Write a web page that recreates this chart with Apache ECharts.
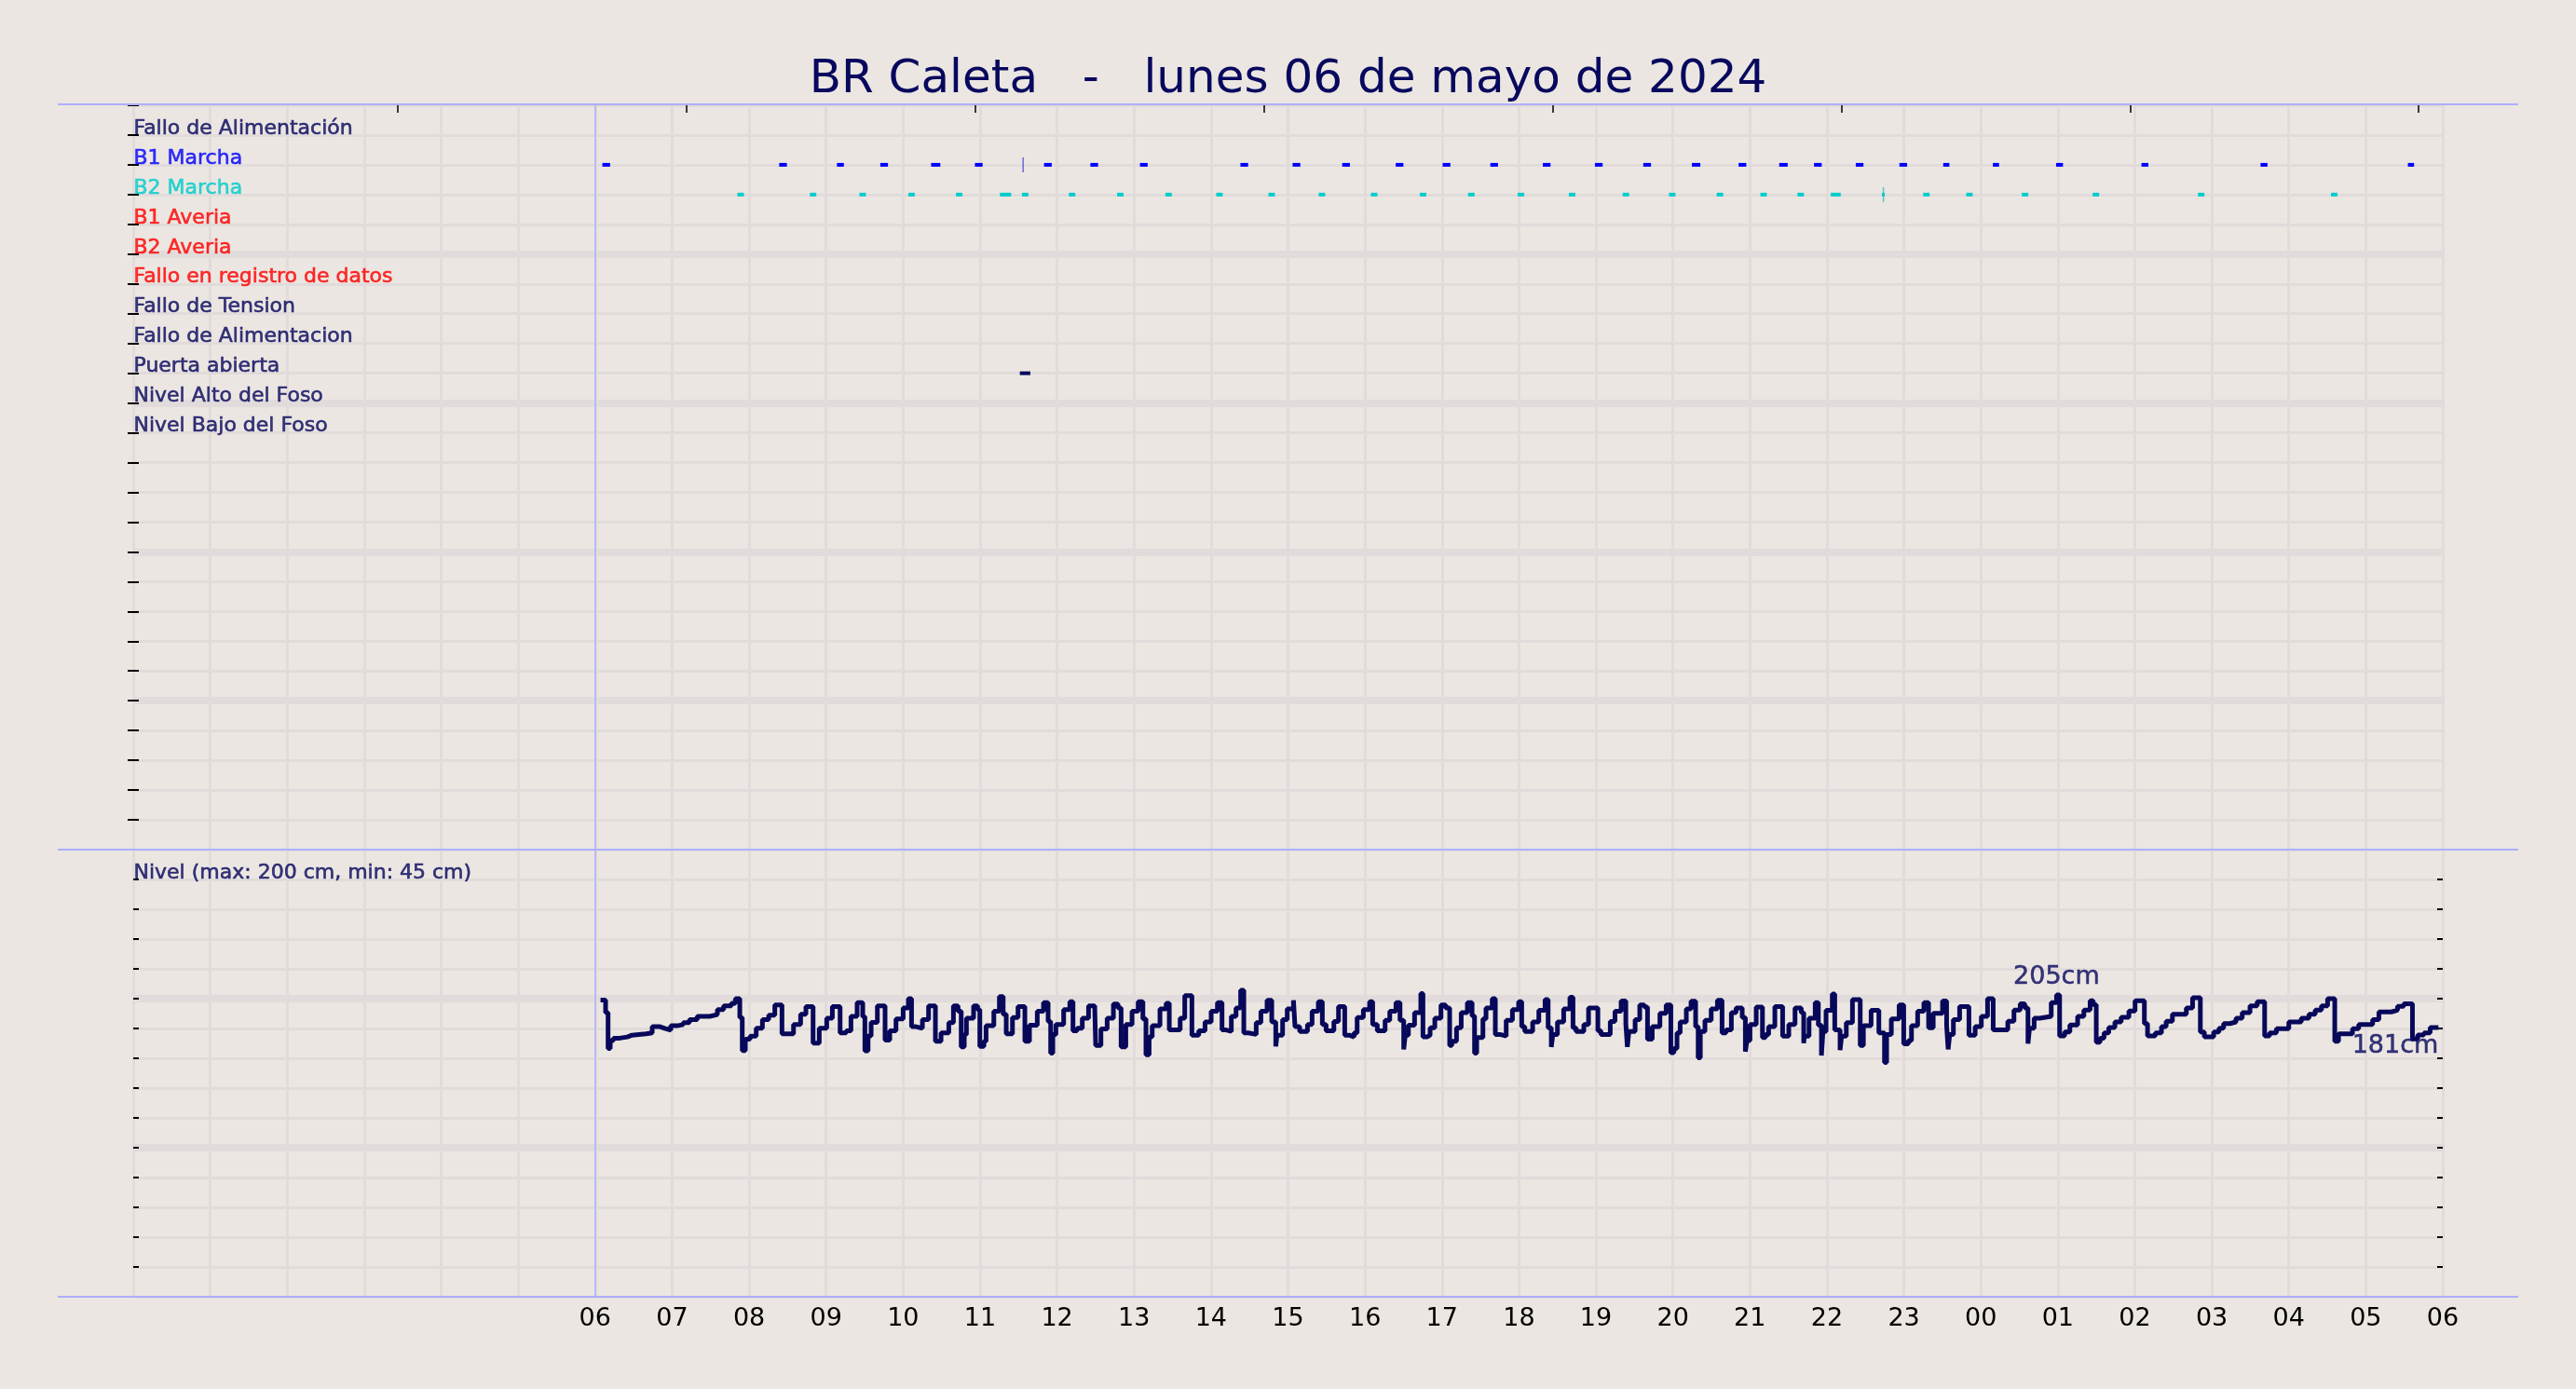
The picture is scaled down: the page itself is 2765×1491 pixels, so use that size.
<!DOCTYPE html>
<html><head><meta charset="utf-8">
<script src="https://cdn.jsdelivr.net/npm/echarts@6/dist/echarts.min.js"></script>
<style>html,body{margin:0;padding:0;background:#ebe6e1;}#c{width:2765px;height:1491px;}</style>
</head><body><div id="c"></div>
<script>
// ---------- DATA ----------
const titleText = 'BR Caleta   -   lunes 06 de mayo de 2024';
const hourLabels = ['06','07','08','09','10','11','12','13','14','15','16','17','18','19','20','21','22','23','00','01','02','03','04','05','06'];
const firstLabelHour = 6;
const dataStartHour = 6;
const topTickHours = [3.4375, 7.1875, 10.9375, 14.6875, 18.4375, 22.1875, 25.9375, 29.6875];

const rowLabels = ['Fallo de Alimentación','B1 Marcha','B2 Marcha','B1 Averia','B2 Averia','Fallo en registro de datos','Fallo de Tension','Fallo de Alimentacion','Puerta abierta','Nivel Alto del Foso','Nivel Bajo del Foso'];
const rowColors = ['#08085e','#0000ff','#00cccc','#ff0000','#ff0000','#ff0000','#08085e','#08085e','#08085e','#08085e','#08085e'];
const levelTitle = 'Nivel (max: 200 cm, min: 45 cm)';

// pump runs [start hour, end hour]
const b1Runs = [[6.094,6.194],[8.391,8.491],[9.141,9.231],[9.704,9.804],[10.364,10.484],[10.933,11.033],[11.831,11.931],[12.433,12.533],[13.077,13.177],[14.382,14.482],[15.060,15.160],[15.704,15.804],[16.399,16.499],[17.009,17.109],[17.628,17.728],[18.31,18.41],[18.987,19.087],[19.615,19.715],[20.246,20.356],[20.853,20.953],[21.381,21.491],[21.833,21.933],[22.375,22.475],[22.942,23.042],[23.511,23.591],[24.156,24.236],[24.977,25.067],[26.086,26.176],[27.633,27.723],[29.547,29.627]];
const b2Runs = [[7.848,7.932],[8.789,8.873],[9.433,9.517],[10.068,10.152],[10.687,10.771],[11.258,11.404],[11.543,11.627],[12.153,12.237],[12.780,12.864],[13.407,13.491],[14.068,14.152],[14.746,14.830],[15.399,15.483],[16.077,16.161],[16.712,16.796],[17.339,17.423],[17.983,18.067],[18.648,18.732],[19.347,19.431],[19.949,20.033],[20.569,20.653],[21.136,21.220],[21.618,21.702],[22.05,22.18],[22.715,22.753],[23.251,23.335],[23.810,23.894],[24.532,24.616],[25.452,25.536],[26.820,26.904],[28.548,28.632]];
const doorRuns = [[11.517,11.653]];
const b1Pulses = [11.559];
const b2Pulses = [22.734];

// water level (step) : hour of change, value in cm
const levelHours = [6.070,6.136,6.168,6.196,6.237,6.318,6.418,6.479,6.660,6.741,6.842,6.903,6.983,7.064,7.144,7.225,7.326,7.487,7.588,7.669,7.770,7.822,7.879,7.911,7.951,8.012,8.092,8.173,8.254,8.334,8.427,8.577,8.669,8.738,8.831,8.911,9.008,9.081,9.182,9.262,9.323,9.403,9.476,9.504,9.545,9.585,9.666,9.766,9.827,9.908,10.001,10.069,10.110,10.170,10.251,10.331,10.420,10.493,10.594,10.654,10.714,10.755,10.795,10.823,10.916,10.968,10.997,11.050,11.078,11.179,11.251,11.300,11.340,11.421,11.493,11.582,11.642,11.743,11.824,11.884,11.917,11.945,11.985,12.086,12.166,
12.207,12.260,12.328,12.409,12.490,12.502,12.570,12.651,12.732,12.792,12.832,12.893,12.974,13.054,13.115,13.155,13.196,13.236,13.337,13.417,13.458,13.599,13.659,13.752,13.841,13.922,14.002,14.083,14.143,14.184,14.264,14.325,14.385,14.426,14.486,14.587,14.648,14.728,14.789,14.841,14.857,14.930,14.990,15.071,15.091,15.152,15.253,15.313,15.394,15.446,15.495,15.596,15.656,15.737,15.797,15.858,15.898,15.979,16.060,16.100,16.160,16.261,16.322,16.402,16.455,16.503,16.523,16.564,16.644,16.725,16.753,16.806,16.846,16.907,16.987,17.048,17.100,17.128,17.189,17.250,17.330,17.391,17.423,17.451,17.532,17.572,17.653,17.693,17.754,17.834,17.915,17.996,18.036,18.076,
18.178,18.258,18.339,18.379,18.420,18.440,18.500,18.581,18.662,18.702,18.742,18.843,18.904,19.025,19.065,19.186,19.247,19.327,19.388,19.408,19.428,19.509,19.569,19.630,19.670,19.731,19.831,19.912,19.973,20.013,20.053,20.094,20.174,20.235,20.295,20.328,20.356,20.416,20.497,20.578,20.638,20.690,20.759,20.820,20.900,20.941,20.961,21.001,21.082,21.163,21.203,21.243,21.324,21.425,21.505,21.586,21.667,21.699,21.707,21.768,21.848,21.889,21.929,21.949,21.989,22.070,22.102,22.171,22.191,22.252,22.332,22.433,22.474,22.574,22.675,22.748,22.776,22.837,22.938,22.998,23.058,23.099,23.179,23.260,23.321,23.381,23.502,23.555,23.575,23.595,23.643,23.724,23.845,23.926,24.006,24.087,24.160,
24.350,24.430,24.511,24.571,24.612,24.632,24.692,24.765,24.914,24.983,25.023,25.088,25.156,25.257,25.338,25.419,25.459,25.499,25.548,25.600,25.661,25.741,25.822,25.923,26.003,26.124,26.165,26.266,26.346,26.407,26.488,26.669,26.750,26.851,26.903,27.024,27.093,27.153,27.234,27.314,27.395,27.496,27.589,27.686,27.750,27.839,28.000,28.162,28.262,28.343,28.424,28.504,28.597,28.646,28.827,28.908,29.089,29.170,29.331,29.412,29.493,29.606,29.674,29.755,29.836,29.944];
const levelCm = [199,190.6,166.6,171.8,173.5,174.3,175.5,176.4,177,181.2,180.1,178.9,181.8,182.6,183.9,186,188.1,189.3,192.7,195.2,196.8,200,187.4,165.1,172.8,174.9,180.1,186,188.9,195.8,176.4,182.6,189.5,194.7,170.1,180.1,186.8,194.7,177,178.5,188.1,197.3,188,165,175,184,195.2,172.2,178.5,186.4,193.7,200,181.2,180.1,186,195.2,171.4,177,183.9,195.2,191.6,167.6,176,186.8,195.2,192.7,168,171.4,181.8,191.6,201.4,189.5,176.4,187.4,194.7,171.4,182.2,191.6,197.3,184.7,163.4,176,182.6,192.7,197.9,
178.5,180.1,186.8,195.2,192.7,168.6,179.7,186.8,196.4,193.7,167.6,182.6,191.6,197.9,186.4,162.4,174.3,181.8,193.1,196.8,179.1,186.8,202,175.5,178.5,184.3,191.6,197.3,179.1,178,188.1,193.7,205.6,177,176,183.9,191.6,198.9,184.3,168,175.5,186,193.1,198.9,181.2,178,182.6,191.6,197.9,182.6,178.5,184.7,194.7,175.5,174.3,177,187.4,192.7,197.9,182.6,178.5,185.4,191.6,197.3,185.4,166,175.5,182.2,190.6,203.5,174.3,175.5,180.5,186.8,195.8,193.7,168.6,171.4,180.5,190.6,197.3,188.5,163.4,173.9,186.4,193.7,200,176,174.9,185.4,192.7,197.9,181.2,178,
184.3,192.2,199.3,180.5,167.6,176,184.3,193.1,201,180.5,178,182.6,193.7,178.5,176,184.7,191.6,198.5,183.3,167.6,178,186,195.8,194.3,172.8,181.2,190.2,195.8,163.8,166.6,177,184.3,193.1,198.3,181.2,160.3,178,185.4,193.1,198.9,177,179.1,190.6,193.7,187.4,164.5,171.8,182.6,194.3,173.9,176,181.2,194.7,174.9,182.6,193.7,190.6,170.1,174.9,186.8,197.3,182.2,161.8,178,192.2,203.1,179.1,165.5,174.9,183.9,199.3,168.6,181.8,192.2,177,157.2,176,186.4,195.8,169.7,171.8,181.8,191.6,197.3,180.5,190.2,198.5,182.2,166,176,186,194.7,175.5,181.2,188.1,200,179.1,
184.8,192.3,196.5,193.8,169.8,180.2,186.9,188.1,197.3,202.5,175,177.7,182.3,188.1,192.3,198.6,195.9,170.8,173.5,177.1,180.6,184.4,187.5,191.7,198.6,183.3,175,177.1,181.3,184.8,189.6,193.8,200.7,177.7,174.4,177.7,180.2,183.3,184.4,186.9,190.6,195.2,198,175,177.1,179.8,184.4,186.9,189.6,192.3,195.2,200,171.4,176.4,179.8,182.7,186,191.1,192.3,194.8,196.5,172.9,175.6,177.1,180.6,180.6];

const noteHours = [24.983, 29.944];
const noteTexts = ['205cm', '181cm'];

// ---------- STYLE / LAYOUT ----------
const BG = '#ebe6e1', GRIDC = '#e1dcdb', NAVY = '#08085e', GUIDE = '#aeaeff';
const FONT = 'DejaVu Sans';
const HIDDEN = 'rgba(0,0,0,0)';
const L = 143, R = 143, T1 = 113, H1 = 799, T2 = 912, H2 = 480;

function levelAt(h) {
  let v = levelCm[0];
  for (let i = 0; i < levelHours.length; i++) { if (levelHours[i] <= h + 1e-9) v = levelCm[i]; }
  return v;
}
function runSeries(runs, row, color) {
  return {
    type: 'custom', xAxisIndex: 0, yAxisIndex: 0, silent: true, z: 5,
    data: runs.map(r => [r[0], r[1], row]),
    encode: { x: [0, 1], y: 2 },
    renderItem: (p, api) => {
      const s = api.coord([api.value(0), api.value(2)]);
      const e = api.coord([api.value(1), api.value(2)]);
      return { type: 'rect', shape: { x: s[0], y: s[1] - 2, width: Math.max(e[0] - s[0], 2), height: 4 }, style: { fill: color } };
    }
  };
}
function pulseSeries(hours, row, color) {
  return {
    type: 'custom', xAxisIndex: 0, yAxisIndex: 0, silent: true, z: 5,
    data: hours.map(h => [h, row]),
    renderItem: (p, api) => {
      const c = api.coord([api.value(0), api.value(1)]);
      return { type: 'rect', shape: { x: c[0] - 0.75, y: c[1] - 8, width: 1.5, height: 16 }, style: { fill: color, opacity: 0.8 } };
    }
  };
}
const thin = { show: true, lineStyle: { color: GRIDC, width: 3 } };
const tickIn = { show: true, inside: true, length: 6, lineStyle: { color: '#000', width: 2 } };

const option = {
  backgroundColor: BG,
  animation: false,
  title: { text: titleText, left: 'center', top: 56, textStyle: { fontFamily: FONT, fontSize: 50, fontWeight: 'normal', color: NAVY } },
  grid: [
    { left: L, right: R, top: T1, height: H1 },
    { left: L, right: R, top: T2, height: H2 }
  ],
  xAxis: [
    { gridIndex: 0, type: 'value', min: 0, max: 30, interval: 1, axisLine: { show: false }, axisTick: { show: false }, axisLabel: { show: false }, splitLine: thin },
    { gridIndex: 0, type: 'value', position: 'top', min: 0, max: 30, axisLine: { show: false }, axisLabel: { show: false }, splitLine: { show: false },
      axisTick: { show: true, inside: true, length: 8, customValues: topTickHours, lineStyle: { color: '#000', width: 1.5 } } },
    { gridIndex: 1, type: 'value', min: 0, max: 30, interval: 1, axisLine: { show: false }, axisTick: { show: false }, splitLine: thin,
      axisLabel: { show: true, margin: 10, fontFamily: FONT, fontSize: 27, color: '#000', showMinLabel: true, showMaxLabel: true, hideOverlap: false,
        formatter: v => (v >= firstLabelHour && v - firstLabelHour < hourLabels.length) ? hourLabels[v - firstLabelHour] : '' } }
  ],
  yAxis: [
    { gridIndex: 0, type: 'value', min: 0, max: 25, interval: 1, inverse: true, axisLine: { show: false }, axisLabel: { show: false }, axisTick: tickIn, splitLine: thin },
    { gridIndex: 0, type: 'value', position: 'right', min: 0, max: 25, interval: 1, inverse: true, axisLine: { show: false }, axisLabel: { show: false }, axisTick: tickIn, splitLine: { show: false } },
    { gridIndex: 0, type: 'value', position: 'right', offset: 0, min: 0, max: 25, interval: 5, inverse: true, axisLine: { show: false }, axisLabel: { show: false }, axisTick: { show: false },
      splitLine: { show: true, showMinLine: false, showMaxLine: false, lineStyle: { color: GRIDC, width: 8 } } },
    { gridIndex: 1, type: 'value', min: 0, max: 300, interval: 20, axisLine: { show: false }, axisLabel: { show: false }, axisTick: tickIn, splitLine: thin },
    { gridIndex: 1, type: 'value', position: 'right', min: 0, max: 300, interval: 20, axisLine: { show: false }, axisLabel: { show: false }, axisTick: tickIn, splitLine: { show: false } },
    { gridIndex: 1, type: 'value', position: 'right', min: 0, max: 300, interval: 100, axisLine: { show: false }, axisLabel: { show: false }, axisTick: { show: false },
      splitLine: { show: true, showMinLine: false, showMaxLine: false, lineStyle: { color: GRIDC, width: 8 } } }
  ],
  series: [
    { type: 'scatter', xAxisIndex: 0, yAxisIndex: 0, silent: true, symbolSize: 1, itemStyle: { color: HIDDEN }, z: 6,
      data: rowLabels.map((n, i) => ({ value: [0, i + 1], name: n, label: { color: rowColors[i], textBorderColor: rowColors[i] } })),
      label: { show: true, position: 'right', distance: 0, offset: [0, -7], formatter: '{b}', fontFamily: FONT, fontSize: 22, textBorderWidth: 0.6 },
      markLine: { silent: true, symbol: ['none', 'none'], label: { show: false }, lineStyle: { color: GUIDE, width: 1.5, type: 'solid' }, data: [{ xAxis: dataStartHour }] } },
    runSeries(b1Runs, 2, '#0000ff'),
    runSeries(b2Runs, 3, '#00cccc'),
    runSeries(doorRuns, 9, NAVY),
    pulseSeries(b1Pulses, 2, '#4a4ad0'),
    pulseSeries(b2Pulses, 3, '#30c0c0'),
    { type: 'scatter', xAxisIndex: 2, yAxisIndex: 3, silent: true, symbolSize: 1, itemStyle: { color: HIDDEN }, z: 6,
      data: [{ value: [0, 280], name: levelTitle }],
      label: { show: true, position: 'right', distance: 0, offset: [0, -7], formatter: '{b}', fontFamily: FONT, fontSize: 22, color: NAVY, textBorderColor: NAVY, textBorderWidth: 0.6 } },
    { type: 'line', xAxisIndex: 2, yAxisIndex: 3, step: 'end', showSymbol: false, silent: true, z: 4,
      lineStyle: { color: '#08085a', width: 5 },
      data: levelHours.map((h, i) => [h, levelCm[i]]),
      markLine: { silent: true, symbol: ['none', 'none'], label: { show: false }, lineStyle: { color: GUIDE, width: 1.5, type: 'solid' }, data: [{ xAxis: dataStartHour }] } },
    { type: 'scatter', xAxisIndex: 2, yAxisIndex: 3, silent: true, symbolSize: 1, itemStyle: { color: HIDDEN }, z: 7,
      data: noteHours.map((h, i) => ({ value: [h, levelAt(h)], name: noteTexts[i],
        label: i === 0 ? { position: 'top', distance: 5, align: 'center' } : { position: 'bottom', distance: 6, align: 'right' } })),
      label: { show: true, formatter: '{b}', fontFamily: FONT, fontSize: 27, color: NAVY, textBorderColor: NAVY, textBorderWidth: 0.5 } }
  ],
  graphic: [
    { type: 'line', z: 100, shape: { x1: 62, y1: T1 - 1, x2: 2703, y2: T1 - 1 }, style: { stroke: GUIDE, lineWidth: 2 } },
    { type: 'line', z: 100, shape: { x1: 62, y1: T2, x2: 2703, y2: T2 }, style: { stroke: GUIDE, lineWidth: 2 } },
    { type: 'line', z: 100, shape: { x1: 62, y1: T2 + H2, x2: 2703, y2: T2 + H2 }, style: { stroke: GUIDE, lineWidth: 2 } }
  ]
};
const chart = echarts.init(document.getElementById('c'), null, { renderer: 'canvas' });
chart.setOption(option);
</script></body></html>
